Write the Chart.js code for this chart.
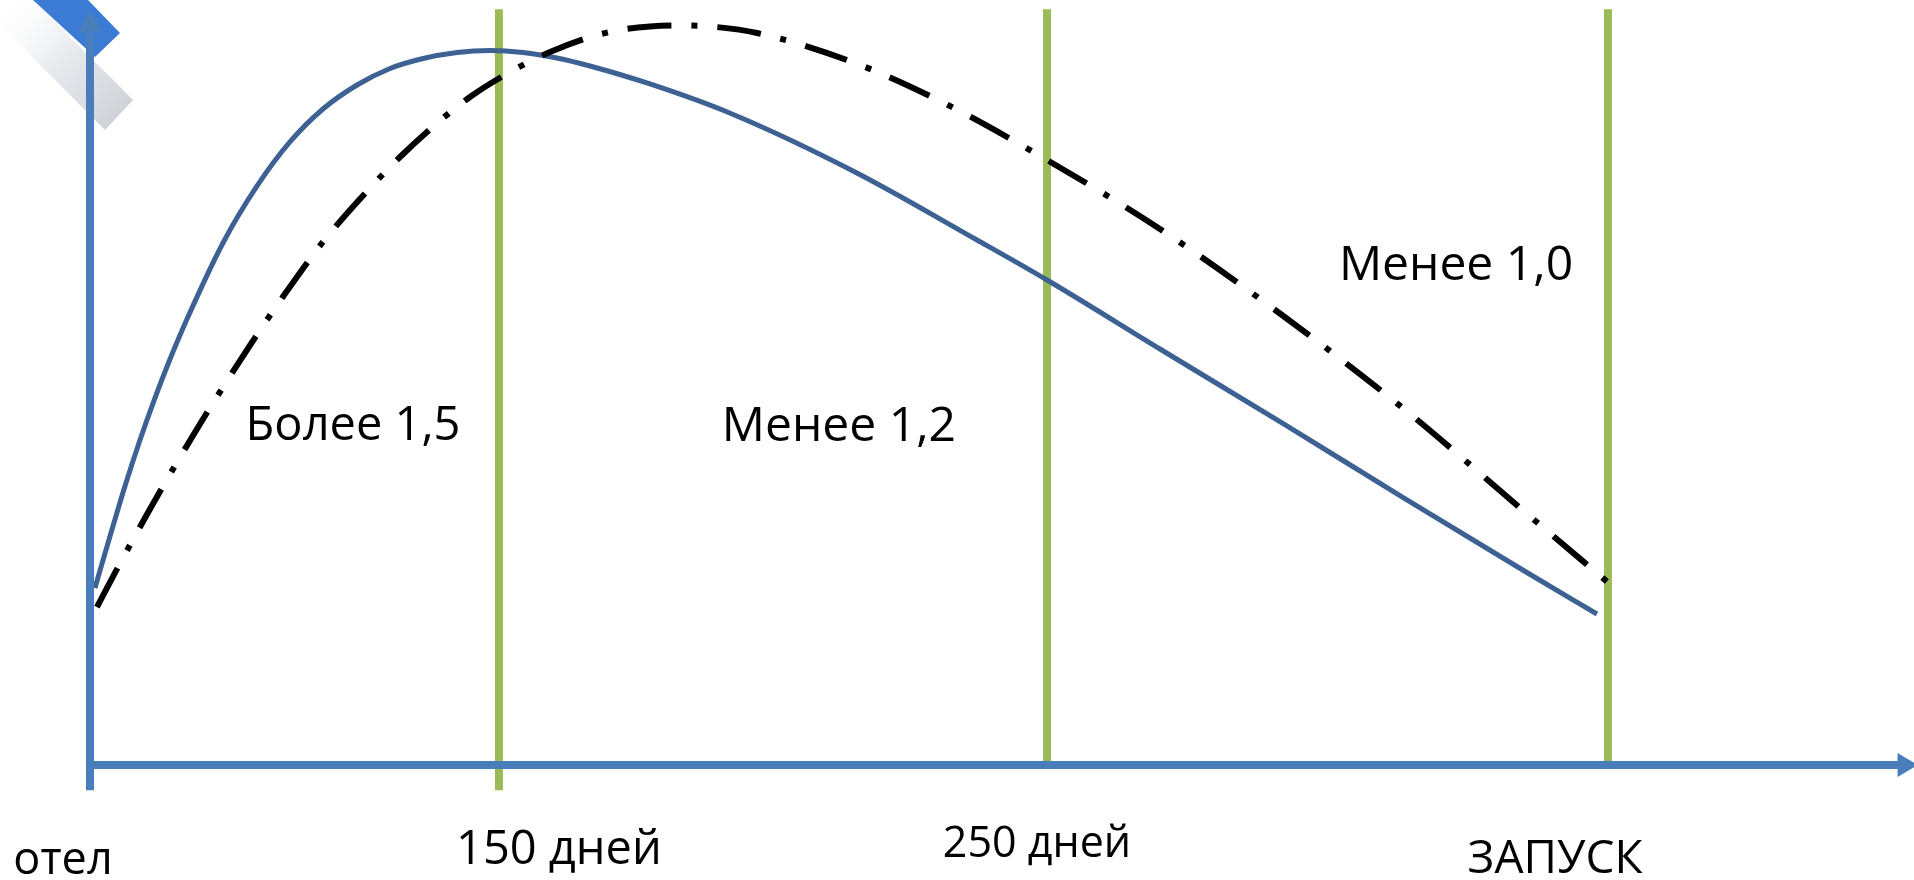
<!DOCTYPE html>
<html>
<head>
<meta charset="utf-8">
<script src="https://cdn.jsdelivr.net/npm/chart.js@4.4.1/dist/chart.umd.min.js"></script>
<style>
  html, body { margin: 0; padding: 0; background: #ffffff; }
  #wrap { width: 1914px; height: 880px; }
</style>
</head>
<body>
<div id="wrap"><canvas id="c" width="1914" height="880"></canvas></div>
<script>
// ---- data (generic units: x 0..100, y 0..100) ----
const solidX = [0.27, 1.10, 1.92, 2.74, 3.56, 4.39, 5.32, 7.29, 9.16, 10.96, 12.77, 14.64, 16.45, 18.26, 20.12, 21.93, 23.74, 25.60, 27.41, 30.70, 35.20, 41.94, 48.63, 52.47, 58.66, 65.35, 72.04, 78.73, 82.62];
const solidY = [23.14, 29.93, 36.47, 42.48, 47.97, 53.07, 58.30, 68.24, 75.69, 81.44, 85.75, 88.89, 91.05, 92.35, 93.14, 93.40, 93.14, 92.42, 91.37, 89.02, 85.10, 77.52, 68.63, 63.40, 54.38, 44.71, 34.90, 25.23, 19.74];

const dashX = [0.38, 1.54, 3.29, 6.03, 8.77, 10.58, 12.77, 15.35, 17.11, 18.91, 20.83, 23.03, 25.22, 27.41, 29.06, 30.70, 32.18, 33.99, 36.57, 41.94, 46.60, 52.47, 58.66, 65.35, 72.04, 78.73, 83.39];
const dashY = [20.65, 25.88, 33.46, 44.58, 54.84, 61.22, 68.37, 75.42, 79.74, 83.66, 87.32, 90.59, 93.20, 95.16, 96.08, 96.54, 96.67, 96.54, 95.69, 91.76, 86.80, 79.08, 70.07, 58.82, 46.54, 32.94, 23.53];

const boundaryX = [22.42, 52.47, 83.22];
const boundaryTop = [98.8, 98.8, 98.8];
const boundaryBottom = [-3.3, 0, 0];

const zoneLabels = ['Более 1,5', 'Менее 1,2', 'Менее 1,0'];
const zoneLabelX = [14.42, 41.06, 74.89];
const zoneLabelY = [44.18, 44.18, 65.23];

const tickLabels = ['отел', '150 дней', '250 дней', 'ЗАПУСК'];
const tickLabelX = [-1.48, 25.71, 51.92, 80.32];
const tickLabelY = [-12.55, -11.24, -10.46, -12.45];

// ---- styles ----
const AXIS_COLOR = '#4a7ebb';
const GREEN = '#9bbb59';
const FONT = '"Open Sans", "Noto Sans", sans-serif';
const zoneFontSizes = [47, 48, 48];
const tickFontSizes = [45, 47, 43, 46];

function pts(xs, ys) { return xs.map((x, i) => ({ x: x, y: ys[i] })); }

const boundarySets = boundaryX.map((bx, i) => ({
  data: [{ x: bx, y: boundaryBottom[i] }, { x: bx, y: boundaryTop[i] }],
  showLine: true, borderColor: GREEN, borderWidth: 8, pointRadius: 0,
  clip: false, order: 3, borderCapStyle: 'butt'
}));

const decoPlugin = {
  id: 'deco',
  beforeDatasetsDraw(chart) {
    const ctx = chart.ctx;
    const ax = chart.scales.x.getPixelForValue(0);
    ctx.save();
    // faded grey clip-art band
    const g = ctx.createLinearGradient(ax - 90, 0, ax + 35, 120);
    g.addColorStop(0, 'rgba(255,255,255,0)');
    g.addColorStop(0.5, 'rgba(228,231,235,0.9)');
    g.addColorStop(1, 'rgba(204,208,212,1)');
    ctx.fillStyle = g;
    ctx.beginPath();
    ctx.moveTo(ax - 90, 0);
    ctx.lineTo(ax - 57, 0);
    ctx.lineTo(ax + 43, 100);
    ctx.lineTo(ax + 15, 130);
    ctx.lineTo(ax - 90, 25);
    ctx.closePath();
    ctx.fill();
    // blue band
    ctx.fillStyle = '#3b7bd3';
    ctx.beginPath();
    ctx.moveTo(ax - 57, 0);
    ctx.lineTo(ax - 2, 0);
    ctx.lineTo(ax + 30, 33);
    ctx.lineTo(ax + 5, 57);
    ctx.closePath();
    ctx.fill();
    ctx.restore();
  }
};

const axesPlugin = {
  id: 'axes',
  afterDatasetsDraw(chart) {
    const ctx = chart.ctx;
    const xs = chart.scales.x, ys = chart.scales.y;
    const x0 = xs.getPixelForValue(0);
    const y0 = ys.getPixelForValue(0);
    const yBottom = ys.getPixelForValue(-3.3);
    const yTopBase = ys.getPixelForValue(95.7);
    const yTip = ys.getPixelForValue(98.7);
    const xRightBase = xs.getPixelForValue(99.1);
    const xTip = xs.getPixelForValue(100.2);
    ctx.save();
    ctx.strokeStyle = AXIS_COLOR;
    ctx.fillStyle = AXIS_COLOR;
    ctx.lineWidth = 8;
    ctx.lineCap = 'butt';
    // y axis
    ctx.beginPath();
    ctx.moveTo(x0, yBottom);
    ctx.lineTo(x0, yTopBase + 1);
    ctx.stroke();
    ctx.beginPath();
    ctx.moveTo(x0 - 12, yTopBase);
    ctx.lineTo(x0, yTip);
    ctx.lineTo(x0 + 12, yTopBase);
    ctx.closePath();
    ctx.fill();
    // x axis
    ctx.beginPath();
    ctx.moveTo(x0 - 4, y0);
    ctx.lineTo(xRightBase + 1, y0);
    ctx.stroke();
    ctx.beginPath();
    ctx.moveTo(xRightBase, y0 - 12);
    ctx.lineTo(xTip, y0);
    ctx.lineTo(xRightBase, y0 + 12);
    ctx.closePath();
    ctx.fill();

    // labels
    ctx.fillStyle = '#000000';
    ctx.textAlign = 'center';
    ctx.textBaseline = 'middle';
    zoneLabels.forEach((t, i) => {
      ctx.font = zoneFontSizes[i] + 'px ' + FONT;
      ctx.fillText(t, xs.getPixelForValue(zoneLabelX[i]), ys.getPixelForValue(zoneLabelY[i]));
    });
    tickLabels.forEach((t, i) => {
      ctx.font = tickFontSizes[i] + 'px ' + FONT;
      ctx.fillText(t, xs.getPixelForValue(tickLabelX[i]), ys.getPixelForValue(tickLabelY[i]));
    });
    ctx.restore();
  }
};

new Chart(document.getElementById('c'), {
  type: 'scatter',
  data: {
    datasets: [
      {
        data: pts(solidX, solidY), showLine: true, borderColor: '#3d6193', borderWidth: 5,
        pointRadius: 0, cubicInterpolationMode: 'monotone', clip: false, order: 1
      },
      {
        data: pts(dashX, dashY), showLine: true, borderColor: '#000000', borderWidth: 6,
        borderDash: [44, 20, 6, 20], borderCapStyle: 'butt',
        pointRadius: 0, cubicInterpolationMode: 'monotone', clip: false, order: 0
      },
      ...boundarySets
    ]
  },
  options: {
    responsive: false,
    animation: false,
    devicePixelRatio: 1,
    layout: { padding: { left: 90, right: 0, top: 0, bottom: 115 } },
    plugins: { legend: { display: false }, tooltip: { enabled: false } },
    scales: {
      x: { type: 'linear', min: 0, max: 100, display: false },
      y: { type: 'linear', min: 0, max: 100, display: false }
    }
  },
  plugins: [decoPlugin, axesPlugin]
});
</script>
</body>
</html>
